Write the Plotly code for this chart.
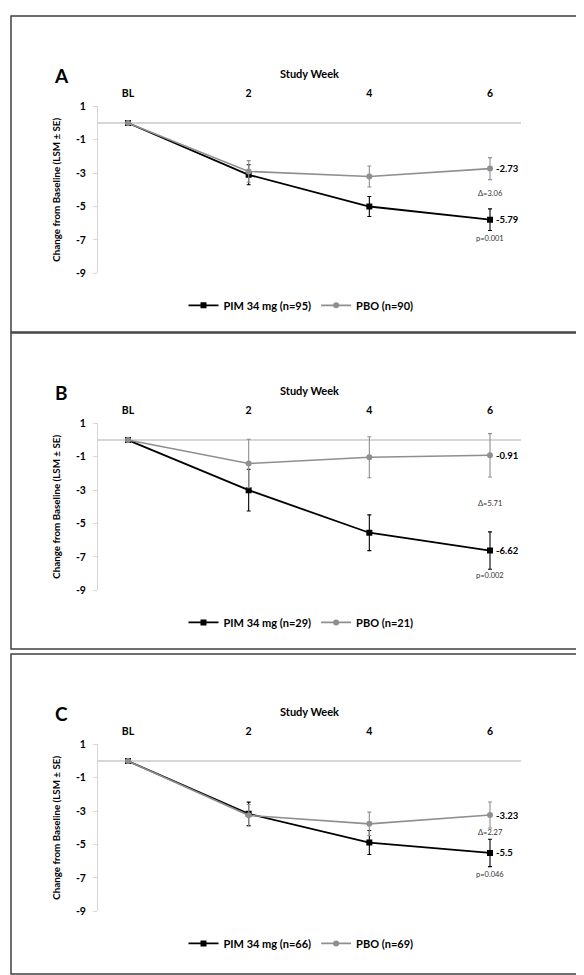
import plotly.graph_objects as go

weeks = ["BL", "2", "4", "6"]
panel_letters = ["A", "B", "C"]

pim_A = [0, -3.10, -5.00, -5.79]
pim_A_se = [0, 0.60, 0.60, 0.65]
pbo_A = [0, -2.90, -3.20, -2.73]
pbo_A_se = [0, 0.65, 0.63, 0.66]

pim_B = [0, -3.00, -5.55, -6.62]
pim_B_se = [0, 1.25, 1.07, 1.12]
pbo_B = [0, -1.40, -1.03, -0.91]
pbo_B_se = [0, 1.45, 1.23, 1.30]

pim_C = [0, -3.16, -4.88, -5.50]
pim_C_se = [0, 0.70, 0.72, 0.82]
pbo_C = [0, -3.25, -3.76, -3.23]
pbo_C_se = [0, 0.65, 0.70, 0.78]

pim_names = ["PIM 34 mg (n=95)", "PIM 34 mg (n=29)", "PIM 34 mg (n=66)"]
pbo_names = ["PBO (n=90)", "PBO (n=21)", "PBO (n=69)"]

delta_text = ["Δ=3.06", "Δ=5.71", "Δ=2.27"]
delta_y = [-4.22, -3.78, -4.29]
p_text = ["p=0.001", "p=0.002", "p=0.046"]
p_y = [-6.92, -8.12, -6.78]

y_ticks = [1, -1, -3, -5, -7, -9]

pim_all = [pim_A, pim_B, pim_C]
pim_se_all = [pim_A_se, pim_B_se, pim_C_se]
pbo_all = [pbo_A, pbo_B, pbo_C]
pbo_se_all = [pbo_A_se, pbo_B_se, pbo_C_se]

W, H = 584, 975
FONT = "Lato"
BLACK = "#000000"
GRAY = "#8f8f8f"
LIGHT = "#d6d6d6"

offsets = [0, 321, 646]
x_left_px, x_right_px = 90, 513
bl_px, six_px = 120, 482
step = (six_px - bl_px) / 3
x_range = [(x_left_px - bl_px) / step, 3 + (x_right_px - six_px) / step]

fig = go.Figure()
layout = dict(
    width=W, height=H,
    margin=dict(l=0, r=0, t=0, b=0),
    paper_bgcolor="white", plot_bgcolor="white",
    font=dict(family=FONT, color=BLACK),
    showlegend=True,
)
shapes = []
annotations = []

xs = list(range(len(weeks)))

for k in range(3):
    off = offsets[k]
    sfx = "" if k == 0 else str(k + 1)
    xa, ya = "x" + sfx, "y" + sfx
    leg = "legend" + sfx
    top_px, bot_px = 93.5 + off, 262.5 + off

    fig.add_trace(go.Scatter(
        x=xs, y=pim_all[k], mode="lines+markers", name=pim_names[k],
        line=dict(color=BLACK, width=1.8),
        marker=dict(symbol="square", size=6, color=BLACK),
        error_y=dict(type="data", array=pim_se_all[k], color=BLACK, thickness=1.1, width=2),
        xaxis=xa, yaxis=ya, legend=leg,
    ))
    fig.add_trace(go.Scatter(
        x=xs, y=pbo_all[k], mode="lines+markers", name=pbo_names[k],
        line=dict(color=GRAY, width=1.6),
        marker=dict(symbol="circle", size=6, color=GRAY),
        error_y=dict(type="data", array=pbo_se_all[k], color=GRAY, thickness=1.1, width=2),
        xaxis=xa, yaxis=ya, legend=leg,
    ))

    layout["xaxis" + sfx] = dict(
        domain=[x_left_px / W, x_right_px / W], range=x_range,
        side="top", anchor=ya, tickvals=xs, ticktext=weeks,
        showline=False, showgrid=False, zeroline=False, ticks="",
        tickfont=dict(family=FONT, size=10.5, color=BLACK, weight="bold"),
        ticklabelstandoff=6,
        title=dict(text="Study Week", font=dict(family=FONT, size=11, color=BLACK, weight="bold"), standoff=6),
    )
    layout["yaxis" + sfx] = dict(
        domain=[1 - bot_px / H, 1 - top_px / H], range=[-9, 1],
        anchor=xa, tickvals=y_ticks, ticktext=[str(v) for v in y_ticks],
        showline=True, linecolor=LIGHT, linewidth=1,
        ticks="outside", ticklen=4, tickcolor=LIGHT,
        ticklabelstandoff=5,
        showgrid=False, zeroline=True, zerolinecolor=LIGHT, zerolinewidth=1.5,
        tickfont=dict(family=FONT, size=10.5, color=BLACK, weight="bold"),
        title=dict(text="Change from Baseline (LSM ± SE)",
                   font=dict(family=FONT, size=9.8, color=BLACK, weight="bold"), standoff=13),
    )
    layout[leg] = dict(
        orientation="h", x=293 / W, xanchor="center", y=1 - (295 + off) / H, yanchor="middle",
        font=dict(family=FONT, size=11, color=BLACK, weight="bold"),
        itemwidth=30, bgcolor="rgba(0,0,0,0)",
    )

    # panel frame
    shapes.append(dict(type="rect", xref="paper", yref="paper",
                       x0=3 / W, x1=579 / W, y0=1 - (322 + off + (4 if k == 2 else 0)) / H, y1=1 - (2 + off) / H,
                       line=dict(color="#404040", width=1.5)))
    annotations.append(dict(xref="paper", yref="paper", x=53 / W, y=1 - (62 + off) / H,
                            text="<b>" + panel_letters[k] + "</b>", showarrow=False,
                            font=dict(family=FONT, size=19, color=BLACK), xanchor="center", yanchor="middle"))
    # end value labels
    annotations.append(dict(xref=xa, yref=ya, x=xs[-1], y=pbo_all[k][-1], text="<b>%s</b>" % pbo_all[k][-1],
                            showarrow=False, xanchor="left", xshift=4,
                            font=dict(family=FONT, size=9.5, color=BLACK)))
    annotations.append(dict(xref=xa, yref=ya, x=xs[-1], y=pim_all[k][-1], text="<b>%s</b>" % pim_all[k][-1],
                            showarrow=False, xanchor="left", xshift=4,
                            font=dict(family=FONT, size=9.5, color=BLACK)))
    annotations.append(dict(xref=xa, yref=ya, x=xs[-1], y=delta_y[k], text=delta_text[k],
                            showarrow=False, xanchor="center",
                            font=dict(family=FONT, size=7.5, color="#333333")))
    annotations.append(dict(xref=xa, yref=ya, x=xs[-1], y=p_y[k], text=p_text[k],
                            showarrow=False, xanchor="center",
                            font=dict(family=FONT, size=7.5, color="#333333")))

layout["shapes"] = shapes
layout["annotations"] = annotations
fig.update_layout(**layout)
fig.write_html("out.html")
